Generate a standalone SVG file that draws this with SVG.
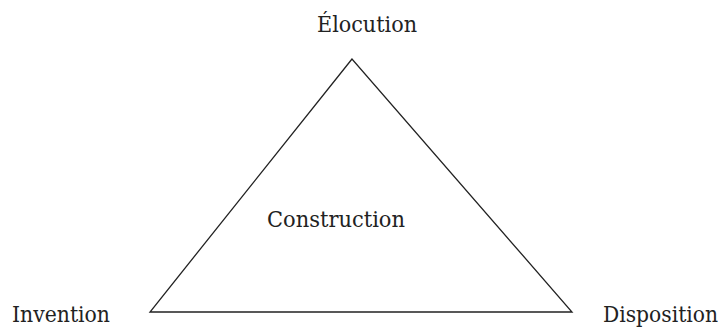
<svg xmlns="http://www.w3.org/2000/svg" width="726" height="331" viewBox="0 0 726 331">
<style>
text{font-family:"DejaVu Serif","Liberation Serif",serif;font-size:22px;fill:#222}
.edge{stroke:#222;stroke-width:1.3;fill:none}
</style>
<rect width="726" height="331" fill="#fff"/>
<g id="connectors">
<polygon class="edge" points="352,59 150,312 572,312"/>
</g>
<g id="elocution"><text x="317" y="32" textLength="100" lengthAdjust="spacingAndGlyphs">Élocution</text></g>
<g id="construction"><text x="267" y="227" textLength="138" lengthAdjust="spacingAndGlyphs">Construction</text></g>
<g id="invention"><text x="12" y="322" textLength="98" lengthAdjust="spacingAndGlyphs">Invention</text></g>
<g id="disposition"><text x="603" y="322" textLength="115" lengthAdjust="spacingAndGlyphs">Disposition</text></g>
</svg>
